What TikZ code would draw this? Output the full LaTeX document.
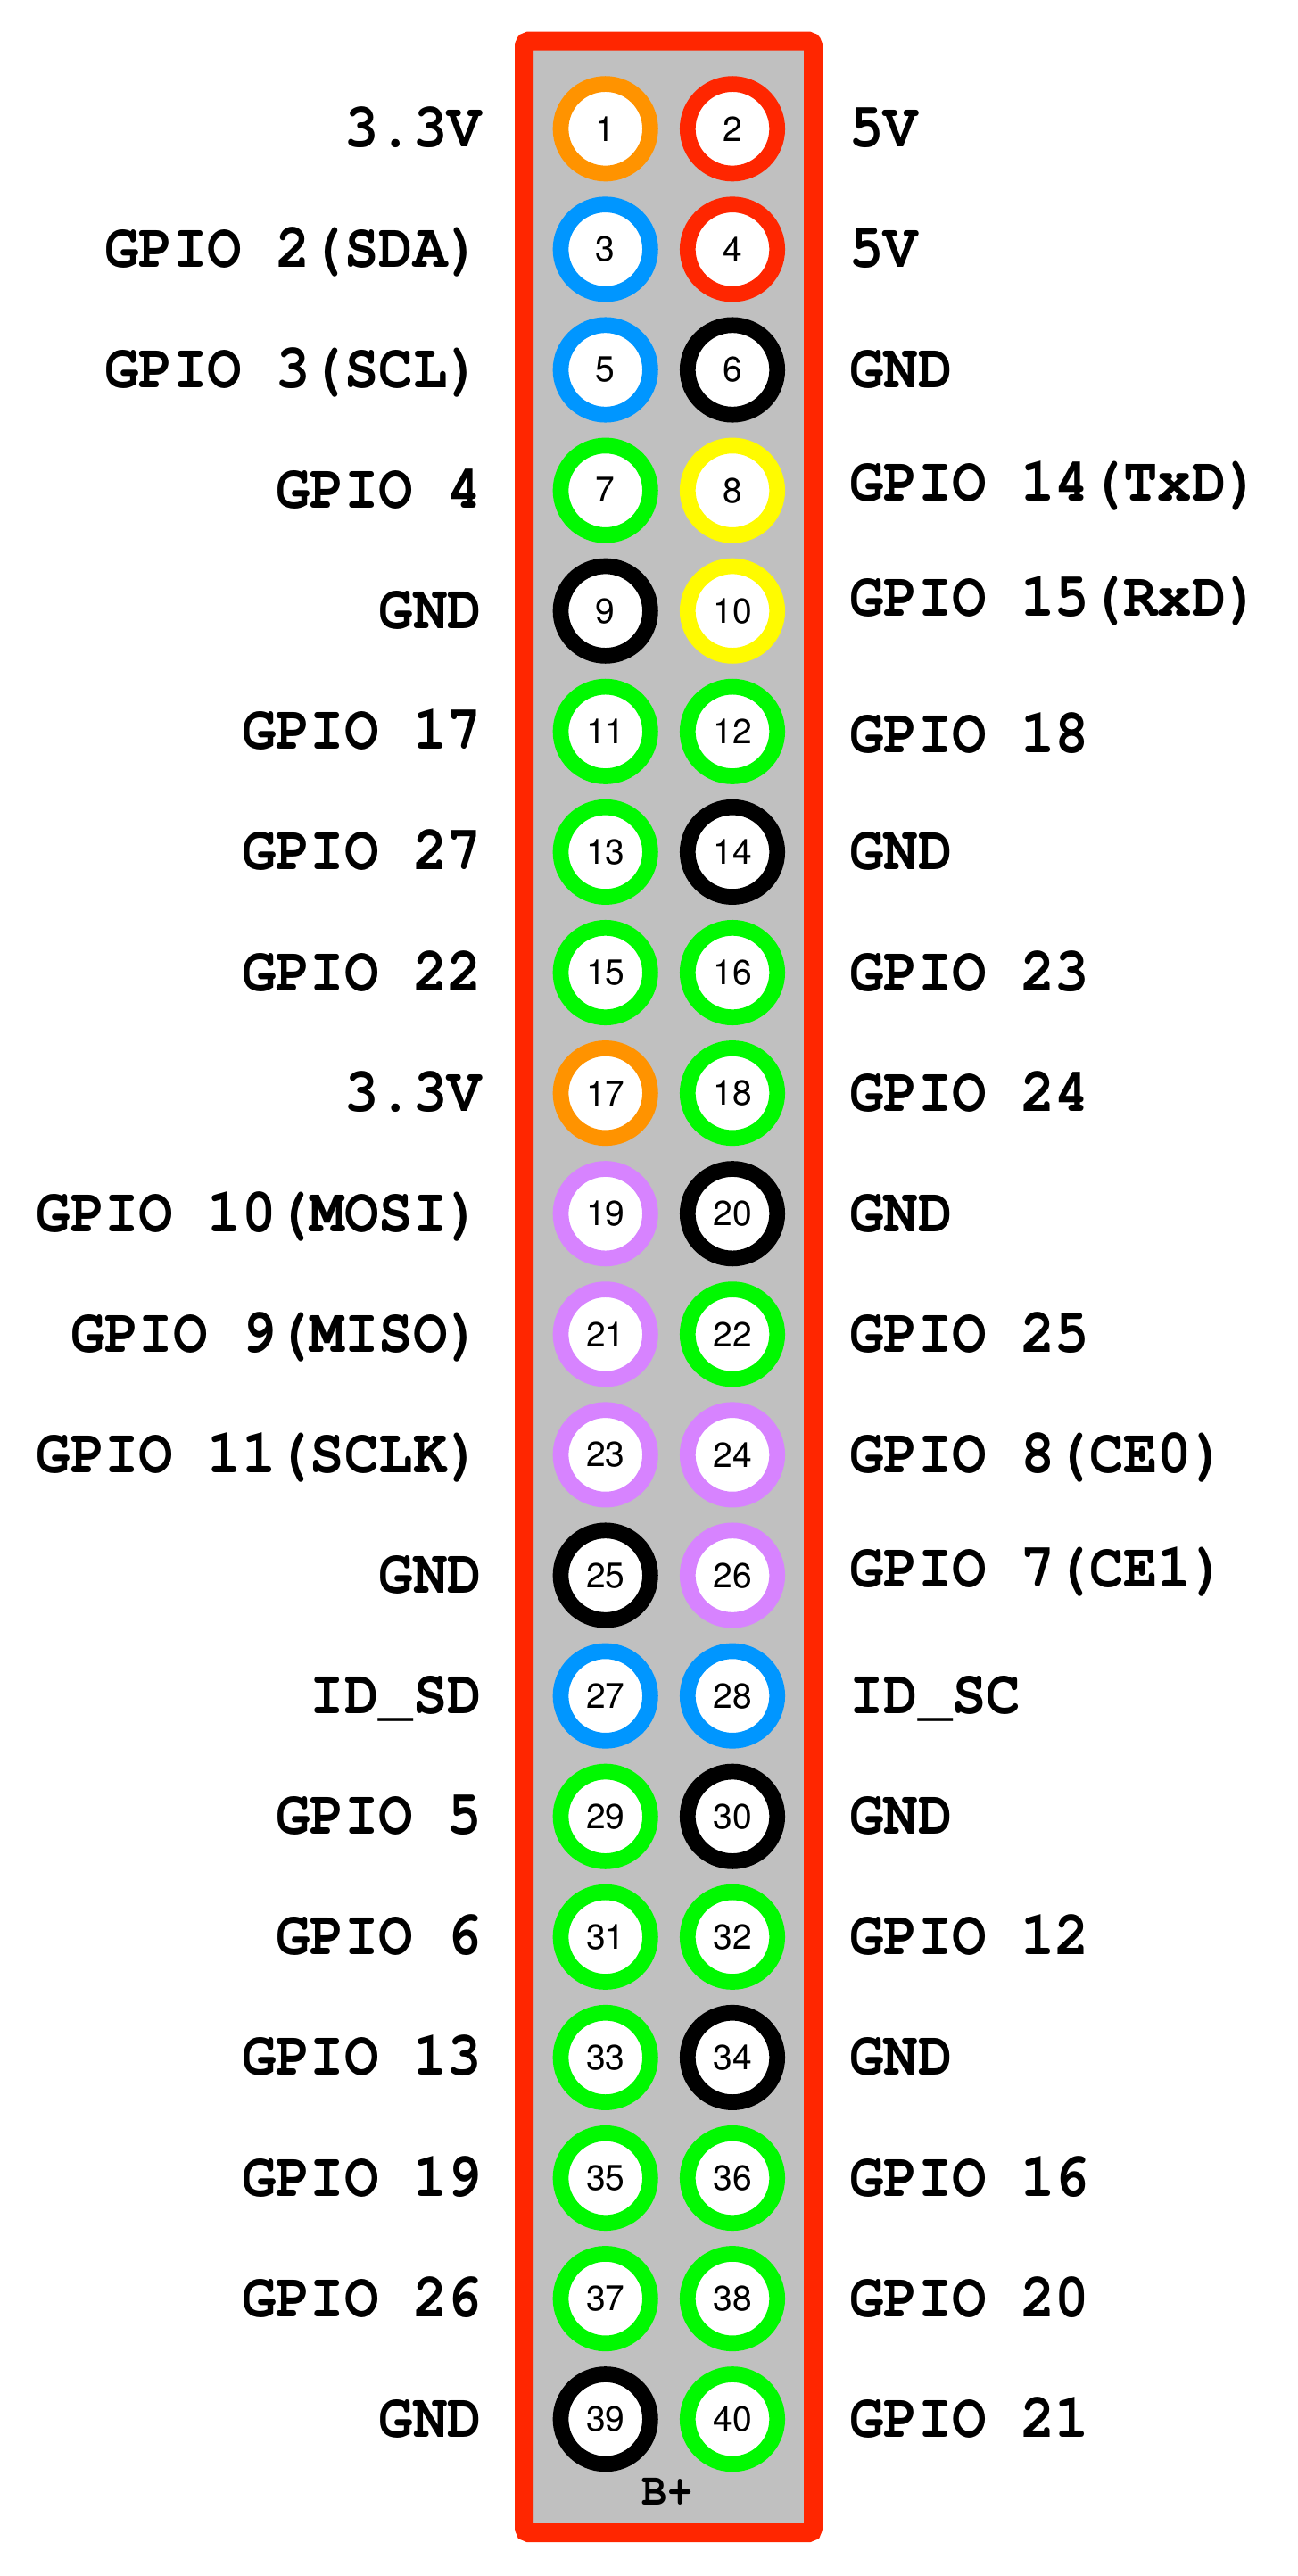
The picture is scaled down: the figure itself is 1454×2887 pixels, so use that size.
\documentclass[tikz,border=0pt]{standalone}
\usepackage[T1]{fontenc}
\usetikzlibrary{math}
\definecolor{crayRed}{RGB}{255,38,0}
\definecolor{crayOrange}{RGB}{255,147,0}
\definecolor{crayBlue}{RGB}{0,150,255}
\definecolor{crayGreen}{RGB}{0,249,0}
\definecolor{crayYellow}{RGB}{255,251,0}
\definecolor{crayPurple}{RGB}{215,131,255}
\definecolor{boardgray}{RGB}{192,192,192}
\newcommand{\labfont}{\fontencoding{T1}\fontfamily{pcr}\fontseries{b}\fontsize{64}{64}\selectfont}
\newcommand{\numfont}{\fontencoding{T1}\fontfamily{phv}\fontseries{m}\fontsize{39}{39}\selectfont}
\newcommand{\modelfont}{\fontencoding{T1}\fontfamily{pcr}\fontseries{b}\fontsize{47}{47}\selectfont}
\newcommand{\tall}[1]{\scalebox{1}[1.1]{#1}}
\tikzset{
  pinring/.style={circle, draw=#1, fill=white, line width=17.7pt, minimum size=100.4pt, inner sep=0pt, font=\numfont},
  leftlab/.style={anchor=base east, inner sep=0pt, font=\labfont},
  rightlab/.style={anchor=base west, inner sep=0pt, font=\labfont},
}

\begin{document}
\begin{tikzpicture}[x=1pt, y=-1pt]
\tikzmath{
\ytop=144.3; \pitch=135.1;
\xl=678.7; \xr=821;
\xtl=540; \xtr=952;
}
\useasboundingbox (0,0) rectangle (1454,2887);

% header board
\draw[crayRed, line width=21pt, fill=boardgray, rounded corners=5pt] (587.5,46.2) rectangle (911.5,2838.5);

% rows of pins: left colour/label, right colour/label, shift of right label
\foreach \i/\lc/\ltxt/\rc/\rtxt/\dy in {
  1/crayOrange/3.3V/crayRed/5V/0,
  2/crayBlue/GPIO 2(SDA)/crayRed/5V/0,
  3/crayBlue/GPIO 3(SCL)/black/GND/0,
  4/crayGreen/GPIO 4/crayYellow/GPIO 14(TxD)/-8,
  5/black/GND/crayYellow/GPIO 15(RxD)/-14,
  6/crayGreen/GPIO 17/crayGreen/GPIO 18/4,
  7/crayGreen/GPIO 27/black/GND/0,
  8/crayGreen/GPIO 22/crayGreen/GPIO 23/0,
  9/crayOrange/3.3V/crayGreen/GPIO 24/0,
  10/crayPurple/GPIO 10(MOSI)/black/GND/0,
  11/crayPurple/GPIO 9(MISO)/crayGreen/GPIO 25/0,
  12/crayPurple/GPIO 11(SCLK)/crayPurple/GPIO 8(CE0)/0,
  13/black/GND/crayPurple/GPIO 7(CE1)/-7,
  14/crayBlue/ID\_SD/crayBlue/ID\_SC/0,
  15/crayGreen/GPIO 5/black/GND/0,
  16/crayGreen/GPIO 6/crayGreen/GPIO 12/0,
  17/crayGreen/GPIO 13/black/GND/0,
  18/crayGreen/GPIO 19/crayGreen/GPIO 16/0,
  19/crayGreen/GPIO 26/crayGreen/GPIO 20/0,
  20/black/GND/crayGreen/GPIO 21/0}{
  \pgfmathtruncatemacro{\nl}{2*\i-1}
  \pgfmathtruncatemacro{\nr}{2*\i}
  \pgfmathsetmacro{\y}{\ytop+(\i-1)*\pitch}
  \node[pinring=\lc] (pin\nl) at (\xl,\y) {\nl};
  \node[pinring=\rc] (pin\nr) at (\xr,\y) {\nr};
  \node[leftlab] (lab\nl) at (\xtl,\y+20) {\tall{\ltxt}};
  \node[rightlab] (lab\nr) at (\xtr,\y+20+\dy) {\tall{\rtxt}};
}

\node[anchor=base, inner sep=0pt, font=\modelfont] (model) at (748,2807) {\tall{B+}};
\end{tikzpicture}
\end{document}
